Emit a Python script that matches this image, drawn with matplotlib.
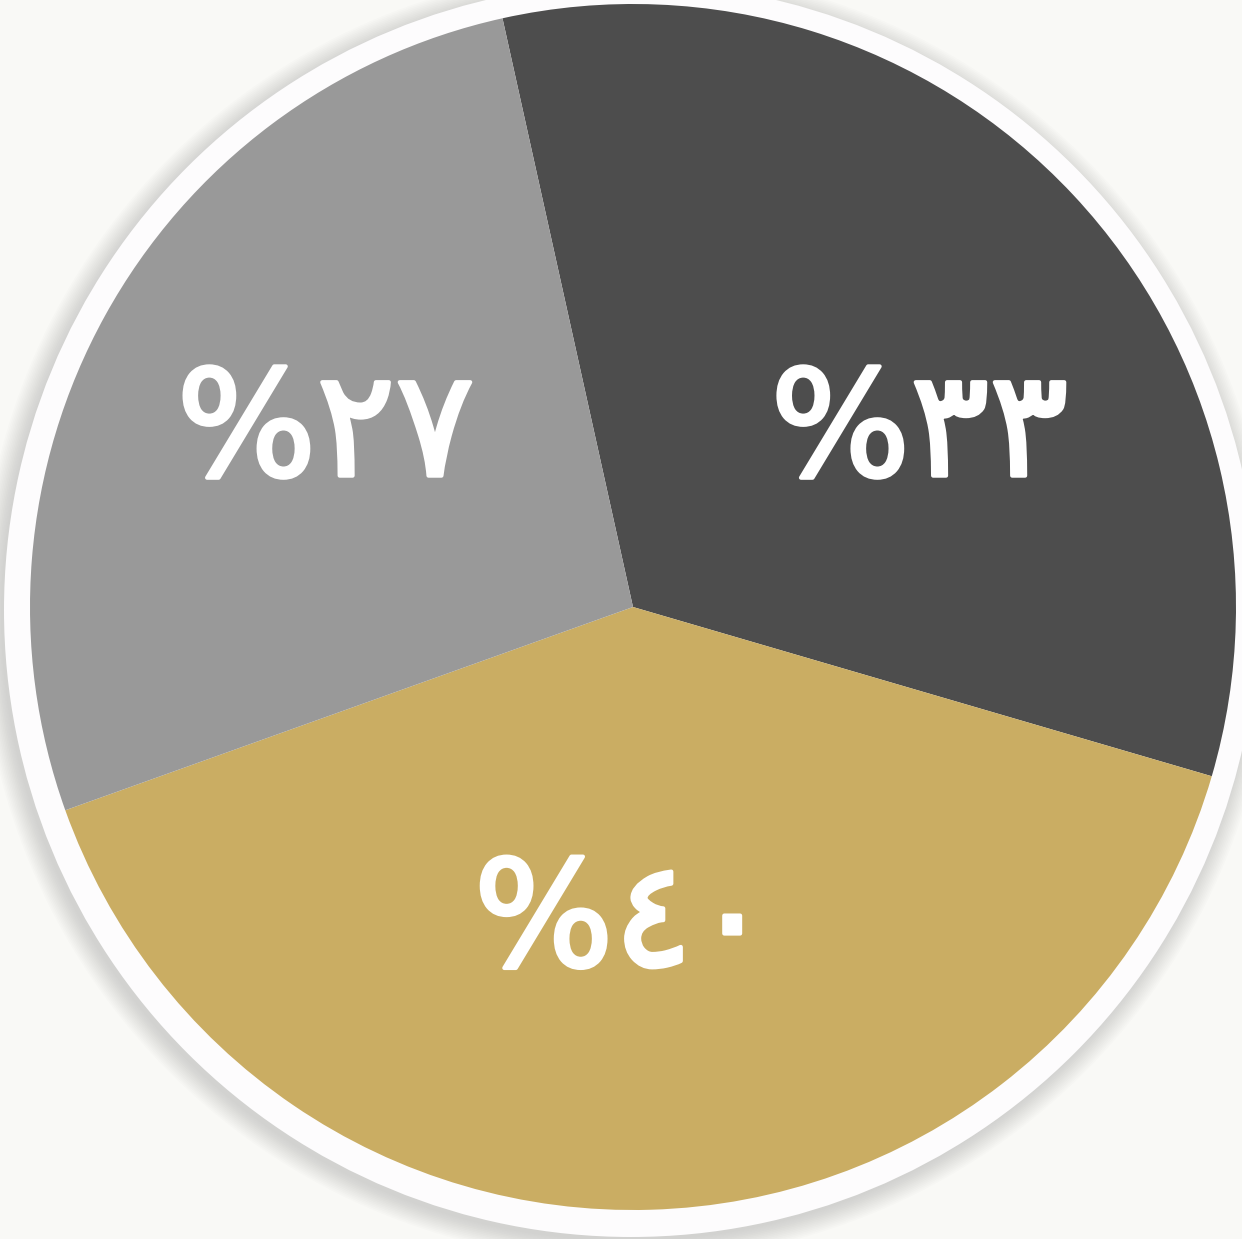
import matplotlib
matplotlib.use("Agg")
import matplotlib.pyplot as plt
from matplotlib.patches import Circle
import matplotlib.patheffects as pe
import numpy as np

# Data
categories = ["A", "B", "C"]
values = [33, 40, 27]
labels = ["%٣٣", "%٤٠", "%٢٧"]
colors = ["#4d4d4d", "#caad63", "#999999"]

W, H = 1242, 1239
fig = plt.figure(figsize=(W / 100, H / 100), dpi=100)
fig.patch.set_facecolor("#f9f9f6")
ax = fig.add_axes([0, 0, 1, 1])
ax.set_facecolor("#f9f9f6")

R = 603.0
cx, cy = 633.0, H - 607.0

# shadow
for i in range(14):
    r = 1.0 + (23 + i * 1.6) / R
    ax.add_patch(Circle((-6 / R, -8 / R), r, color="#9a9a9a", alpha=0.03, lw=0, zorder=0))
# white ring
ax.add_patch(Circle((-2 / R, -3 / R), 1.0 + 24 / R, color="#fdfcfd", lw=0, zorder=1))

wedges, _ = ax.pie(values, colors=colors, startangle=102.5, counterclock=False,
                   radius=1.0, wedgeprops=dict(linewidth=0, zorder=2))
for w in wedges:
    w.set_zorder(2)

ax.set_xlim(-cx / R, (W - cx) / R)
ax.set_ylim(-cy / R, (H - cy) / R)
ax.set_aspect("auto")
ax.axis("off")

label_pos = [(0.475, 0.285), (-0.017, -0.528), (-0.51, 0.285)]
for (x, y), t in zip(label_pos, labels):
    ax.text(x, y, t, color="white", fontsize=106, fontweight="normal",
            family=["DejaVu Sans"], ha="center", va="center", zorder=5,
            path_effects=[pe.withStroke(linewidth=3, foreground="white")])

fig.savefig("out.png", dpi=100, facecolor=fig.get_facecolor())
